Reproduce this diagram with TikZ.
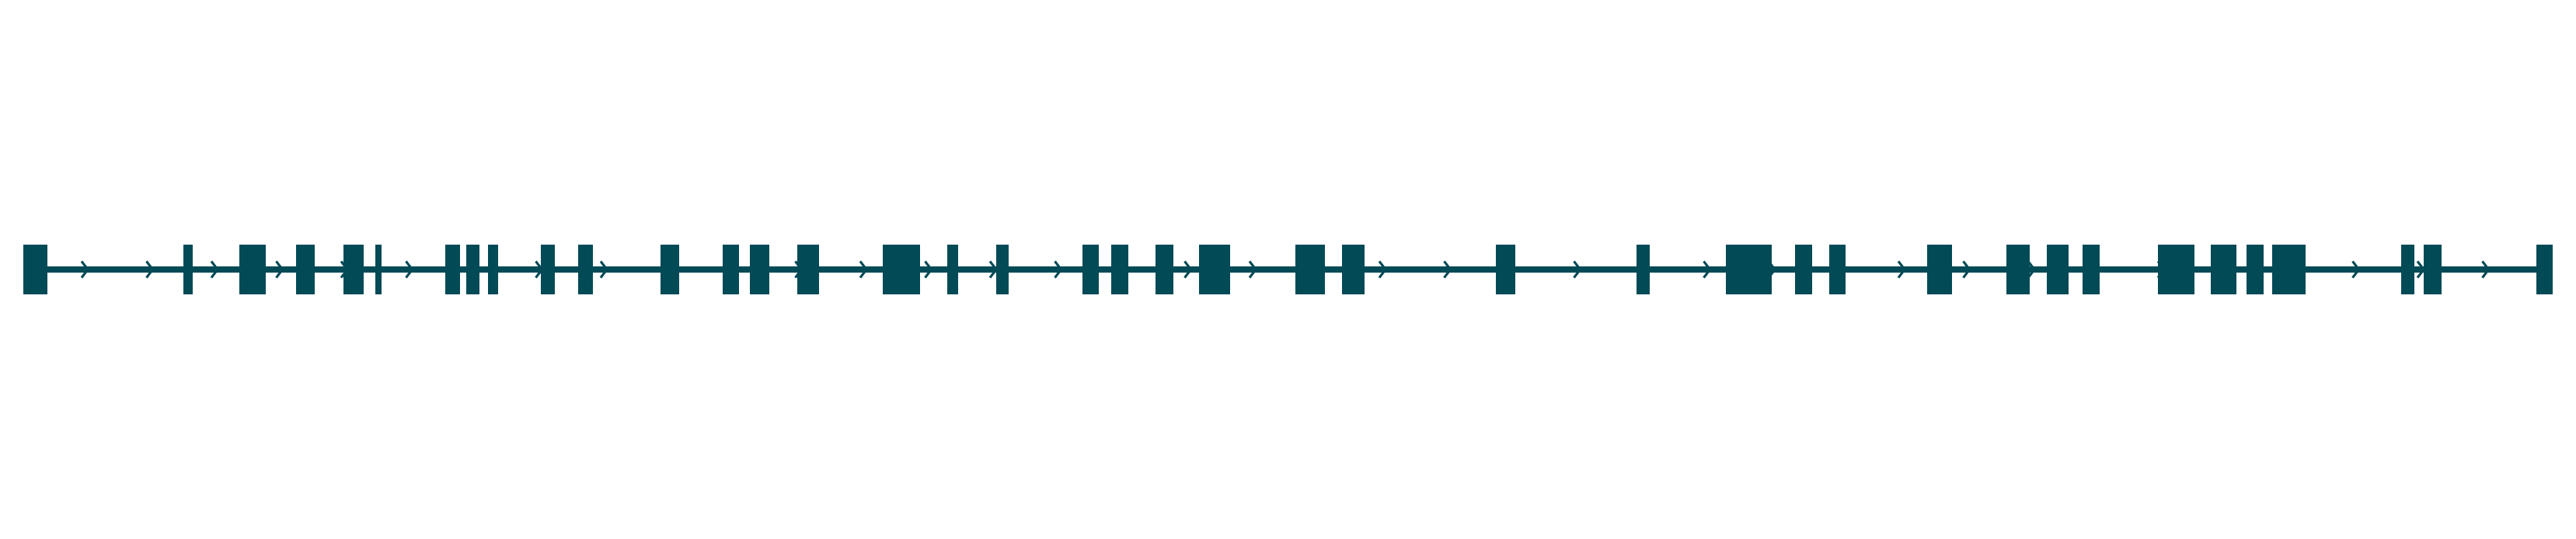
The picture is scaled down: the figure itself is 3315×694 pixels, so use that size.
\documentclass[tikz,border=0pt]{standalone}
\usepackage{tikz}
\usetikzlibrary{arrows.meta,positioning,backgrounds}
\definecolor{gene}{HTML}{024A56}

\begin{document}
\begin{tikzpicture}[x=0.01cm,y=0.01cm, exonbox/.style={fill=gene,draw=none,inner sep=0pt,minimum height=0.64cm}, intron/.style={draw=gene,line width=2pt}, chev/.style={draw=gene,line width=0.85pt}]
  \useasboundingbox (0,0) rectangle (3315,694);
  % exons, left/right edge in px
  \foreach \a/\b [count=\i] in {30/61,236/248,308/342,381/405,442/468,483/491,573/592,600/617,628/641,696/714,744/763,850/874,930/951,965/990,1026/1054,1136/1184,1219/1233,1282/1298,1393/1414,1430/1452,1487/1510,1543/1583,1667/1705,1727/1756,1925/1950,2106/2123,2221/2280,2310/2332,2354/2375,2480/2512,2582/2612,2634/2662,2680/2702,2777/2824,2845/2878,2891/2913,2924/2967,3090/3107,3119/3142,3264/3285}{\pgfmathsetmacro\w{(\b-\a)/100}\node[exonbox,minimum width=\w cm] (e\i) at ({(\a+\b)/2},347) {};}
  \begin{scope}[on background layer]
    \draw[intron] (e1.center) -- (e40.center);
    \foreach \k in {0,...,37}{\draw[chev] ({109+83.5*\k-4},357.5) -- ++(8,-10.5) -- ++(-8,-10.5);}
  \end{scope}
\end{tikzpicture}
\end{document}
